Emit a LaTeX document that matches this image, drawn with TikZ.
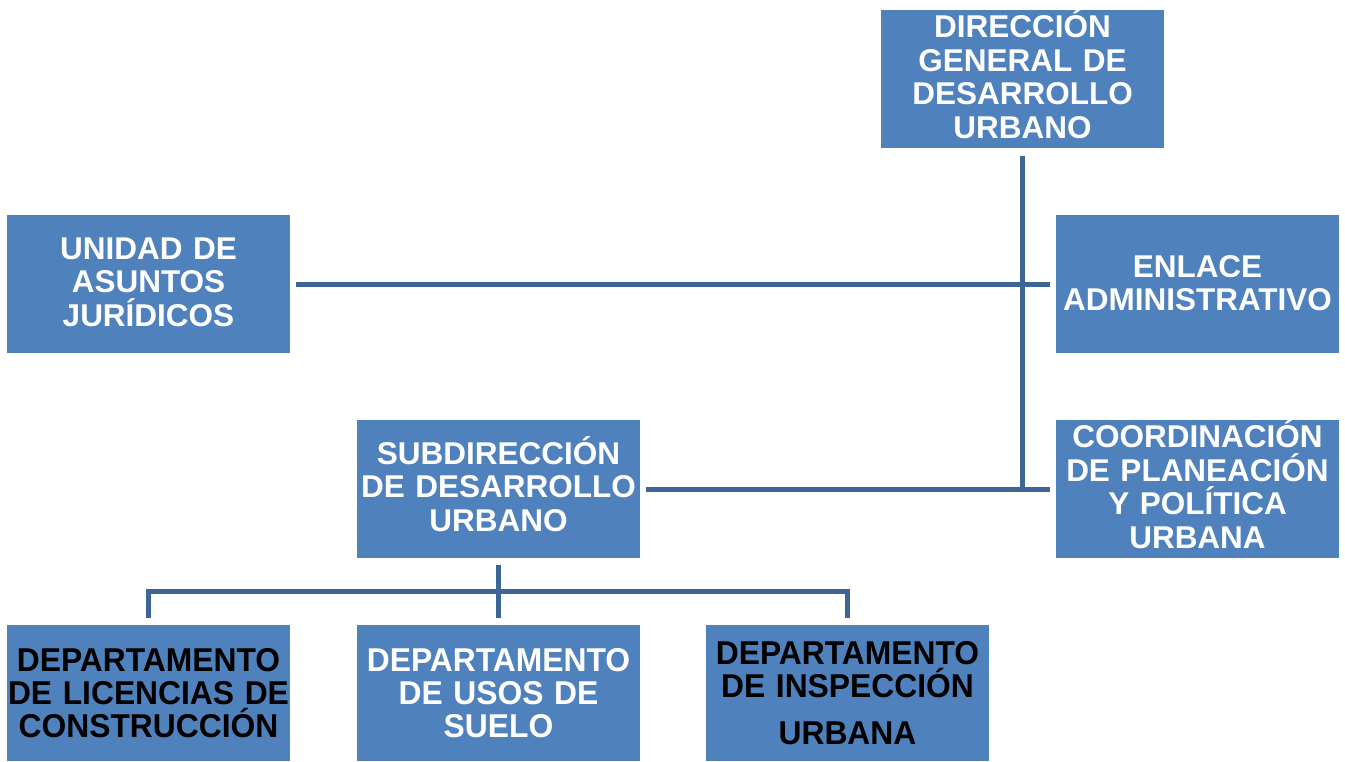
\documentclass[tikz,border=0pt]{standalone}
\usepackage{fontspec}
\setmainfont{Liberation Sans}
\definecolor{boxblue}{RGB}{79,129,189}
\definecolor{lineblue}{RGB}{62,101,152}
\newcommand{\liftup}[1][10pt]{\par\vspace{#1}}
\begin{document}
\begin{tikzpicture}[x=1pt,y=-1pt,
  unit/.style={fill=boxblue, draw=none, minimum width=283pt, minimum height=138pt,
    inner sep=0pt, text width=281pt, align=center, text=white,
    font=\fontsize{31.5}{33.5}\selectfont\bfseries},
  dept/.style={unit, minimum height=136pt, font=\fontsize{30}{33}\selectfont\bfseries},
  darktext/.style={text=black},
  conn/.style={draw=lineblue, line width=5pt}]
\useasboundingbox (0,0) rectangle (1345,761);
\node[unit] (dg) at (1022.5,79) {DIRECCIÓN\\GENERAL DE\\DESARROLLO\\URBANO\liftup};
\node[unit] (uaj) at (148.5,284) {UNIDAD DE\\ASUNTOS\\JURÍDICOS\liftup[4pt]};
\node[unit] (ea) at (1197.5,284) {ENLACE\\ADMINISTRATIVO\liftup[2pt]};
\node[unit] (cp) at (1197.5,489) {COORDINACIÓN\\DE PLANEACIÓN\\Y POLÍTICA\\URBANA\liftup};
\node[unit] (sub) at (498.5,489) {SUBDIRECCIÓN\\DE DESARROLLO\\URBANO\liftup};
\node[dept,darktext] (d1) at (148.5,693) {\scalebox{1.06}[1.1]{DEPARTAMENTO}\\\scalebox{1.06}[1.1]{DE LICENCIAS DE}\\\scalebox{1.06}[1.1]{CONSTRUCCIÓN}};
\node[dept] (d2) at (498.5,693) {\scalebox{1.06}[1.1]{DEPARTAMENTO}\\\scalebox{1.06}[1.1]{DE USOS DE}\\\scalebox{1.06}[1.1]{SUELO}};
\node[dept,darktext] (d3) at (847.5,693) {\scalebox{1.06}[1.1]{DEPARTAMENTO}\\\scalebox{1.06}[1.1]{DE INSPECCIÓN}\\[14pt]\scalebox{1.06}[1.1]{URBANA}};
\coordinate (junc) at (dg.south |- cp.west);
\draw[conn] ([yshift=-7pt]dg.south) -- (junc);
\draw[conn] ([xshift=6pt]uaj.east) -- ([xshift=-6pt]ea.west);
\draw[conn] ([xshift=6pt]sub.east) -- ([xshift=-6pt]cp.west);
\draw[conn] ([yshift=-7pt]sub.south) -- ([yshift=7pt]d2.north);
\draw[conn] ([yshift=7pt]d1.north) -- ++(0,-26) -| ([yshift=7pt]d3.north);
\end{tikzpicture}
\end{document}
